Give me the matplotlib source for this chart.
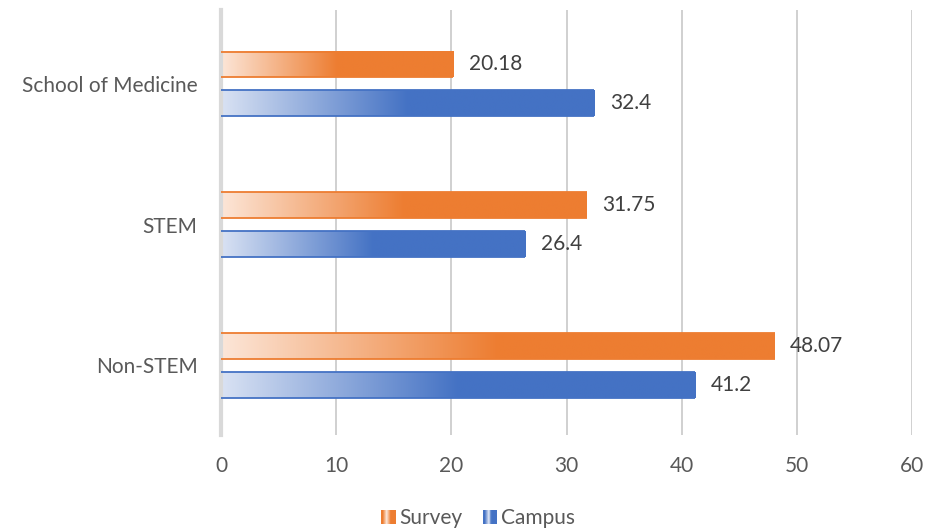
import matplotlib.pyplot as plt
import numpy as np
from matplotlib.colors import LinearSegmentedColormap, to_rgb
from matplotlib.legend_handler import HandlerBase
from matplotlib.patches import Rectangle

plt.rcParams['font.family'] = ['Lato', 'DejaVu Sans']

# Data
categories = ['Non-STEM', 'STEM', 'School of Medicine']
survey = [48.07, 31.75, 20.18]
campus = [41.2, 26.4, 32.4]
series_names = ['Survey', 'Campus']
xticks = [0, 10, 20, 30, 40, 50, 60]

orange = '#ED7D31'
blue = '#4472C4'
light = {orange: '#FCE6D8', blue: '#D9E2F3'}
fs = 15

fig = plt.figure(figsize=(9.26, 5.31), dpi=100)
ax = fig.add_axes([221 / 926, 1 - 435 / 531, (912 - 221) / 926, (435 - 10) / 531])

bar_h = 0.184
offset = 0.138


def gradient_bar(y, value, color):
    # fade from light to full colour over the first half of the bar, then solid
    cmap = LinearSegmentedColormap.from_list('g', [light[color], color])
    grad = np.clip(np.linspace(0, 1, 256) * 2, 0, 1).reshape(1, -1)
    ax.imshow(grad, cmap=cmap, aspect='auto', interpolation='bilinear',
              extent=(0, value, y - bar_h / 2, y + bar_h / 2), zorder=2)
    ax.plot([0, value], [y + bar_h / 2] * 2, color=color, lw=1.3, zorder=3,
            solid_capstyle='butt')
    ax.plot([0, value], [y - bar_h / 2] * 2, color=color, lw=1.3, zorder=3,
            solid_capstyle='butt')


y = np.arange(len(categories))
for i in range(len(categories)):
    gradient_bar(y[i] + offset, survey[i], orange)
    gradient_bar(y[i] - offset, campus[i], blue)
    ax.text(survey[i] + 1.35, y[i] + offset, f'{survey[i]:g}', va='center',
            ha='left', fontsize=fs, color='#404040')
    ax.text(campus[i] + 1.35, y[i] - offset, f'{campus[i]:g}', va='center',
            ha='left', fontsize=fs, color='#404040')

ax.set_xlim(0, 60)
ax.set_ylim(-0.495, 2.525)
ax.set_xticks(xticks)
ax.set_yticks(y)
ax.set_yticklabels(categories)
ax.tick_params(axis='both', length=0, labelsize=fs, labelcolor='#595959')
ax.tick_params(axis='x', pad=15)
ax.tick_params(axis='y', pad=17)
ax.grid(axis='x', color='#D0D0D0', lw=1.4, zorder=0)
ax.set_axisbelow(True)
for s in ['top', 'right', 'bottom']:
    ax.spines[s].set_visible(False)
ax.spines['left'].set_color('#D9D9D9')
ax.spines['left'].set_linewidth(3)


class GradientHandler(HandlerBase):
    def __init__(self, color):
        super().__init__()
        self.color = color

    def create_artists(self, legend, orig_handle, xdescent, ydescent,
                       width, height, fontsize, trans):
        size = height * 1.0
        x0 = -xdescent + width - size
        y0 = -ydescent + (height - size) / 2
        n = 8
        c1 = np.array(to_rgb(light[self.color]))
        c2 = np.array(to_rgb(self.color))
        arts = [Rectangle((x0, y0), size, size, facecolor=self.color,
                          edgecolor='none', transform=trans)]
        for k in range(n):
            t = abs(k - n / 2.5) / (n / 2)
            col = c1 + (c2 - c1) * min(t, 1)
            arts.append(Rectangle((x0 + size * 0.15 + k * size * 0.5 / n, y0), size * 0.5 / n,
                                  size, facecolor=col, edgecolor='none', transform=trans))
        return arts


h1 = Rectangle((0, 0), 1, 1)
h2 = Rectangle((0, 0), 1, 1)
fig.legend([h1, h2], series_names, loc='lower center', bbox_to_anchor=(0.516, -0.03),
           ncol=2, frameon=False, fontsize=fs, labelcolor='#595959',
           handler_map={h1: GradientHandler(orange), h2: GradientHandler(blue)},
           handlelength=0.7, handletextpad=0.15, columnspacing=1.0)

plt.savefig('out.png', dpi=100)
plt.close()
